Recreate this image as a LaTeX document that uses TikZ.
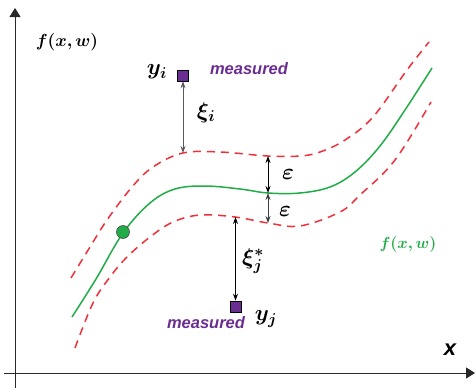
\documentclass[tikz,border=0pt]{standalone}
\usepackage{fix-cm}
\usepackage{fontspec}
\usepackage{amsmath,bm}
\newfontfamily\arialbi[BoldItalicFont={* Bold Italic}]{Liberation Sans}
\usetikzlibrary{arrows.meta}
\definecolor{cgreen}{RGB}{34,172,72}
\definecolor{cred}{RGB}{240,48,58}
\definecolor{cpurple}{RGB}{106,45,145}
\definecolor{caxis}{RGB}{40,40,40}
\tikzset{
  axis/.style={line width=1pt,draw=caxis,-{Triangle[length=9pt,width=11pt]}},
  band/.style={cred,line width=1.5pt,dash pattern=on 8pt off 6pt,smooth,tension=0.6},
  curve/.style={cgreen,line width=1.5pt,smooth,tension=0.6},
  meas/.style={draw=black,fill=cpurple,minimum size=11pt,inner sep=0pt,line width=0.6pt},
  dim/.style={line width=0.9pt,draw=#1,{Stealth[length=7pt,width=5pt]}-{Stealth[length=7pt,width=5pt]}},
  dim/.default=black,
  mtxt/.style={text=cpurple,font=\fontsize{16.5}{19}\arialbi\bfseries\itshape},
  lbl/.style={font=\fontsize{17.5}{21}\selectfont,inner sep=0pt},
  glbl/.style={font=\fontsize{22.5}{26}\selectfont,inner sep=0pt}
}
\begin{document}
\begin{tikzpicture}[x=1pt,y=-1pt]
\useasboundingbox (0,0) rectangle (475,388);
% axes
\coordinate (ybot) at (15,388);
\coordinate (ytop) at (15,8);
\coordinate (xl) at (4,373);
\coordinate (xr) at (475,373);
\draw[axis] (ybot) -- (ytop);
\draw[axis] (xl) -- (xr);
% band
\draw[band] plot coordinates {(71,278) (90,247) (107,220) (132,187) (153,167) (183,153) (220,152) (268,156) (300,156) (320,152) (345,140) (373,117) (407,70) (429,42)};
\draw[band] plot coordinates {(75,348) (93,303) (110,277) (127,257) (150,237) (173,222) (200,215) (235,217) (268,223) (300,226) (340,212) (360,195) (395,160) (431,102)};
\draw[curve] plot coordinates {(72,317) (96,279) (123,233) (150,203) (175,189) (205,186) (240,189) (268,193) (300,193) (330,187) (355,172) (380,146) (405,110) (432,68)};
\node[circle,draw=black!70,fill=cgreen,minimum width=13pt,minimum height=12pt,inner sep=0pt,line width=0.6pt] (dot) at (123,232) {};
% measured points
\node[meas] (sqi) at (183,75.5) {};
\node[meas] (sqj) at (235.5,306.5) {};
\coordinate (ui) at (183,153);
\coordinate (lj) at (235.5,217);
\coordinate (eu) at (268,156);
\coordinate (eg) at (268,193);
\coordinate (el) at (268,223);
\draw[dim=black!65] (sqi.south) -- (ui);
\draw[dim] (sqj.north) -- (lj);
\draw[dim] (eu) -- (eg);
\draw[dim=black!75] (eg) -- (el);
% labels
\node[lbl] (fxw) at (67,42) {$\bm{f(x,w)}$};
\node[glbl] (yi) at (157,72) {$\bm{y_i}$};
\node[mtxt] (m1) at (249,69) {measured};
\node[glbl] (xii) at (206,113) {$\bm{\xi_i}$};
\node[glbl] (e1) at (288,174) {$\bm{\varepsilon}$};
\node[glbl] (e2) at (285,211) {$\bm{\varepsilon}$};
\node[glbl] (xij) at (253,261) {$\bm{\xi_j^*}$};
\node[mtxt] (m2) at (206,323) {measured};
\node[glbl] (yj) at (266,319) {$\bm{y_j}$};
\node[text=cgreen,font=\fontsize{16}{19}\selectfont,inner sep=0pt] (fg) at (408,244) {$\bm{f(x,w)}$};
\node[font=\fontsize{22}{26}\arialbi\bfseries\itshape,inner sep=0pt] (xlab) at (450,350) {x};
\end{tikzpicture}
\end{document}
